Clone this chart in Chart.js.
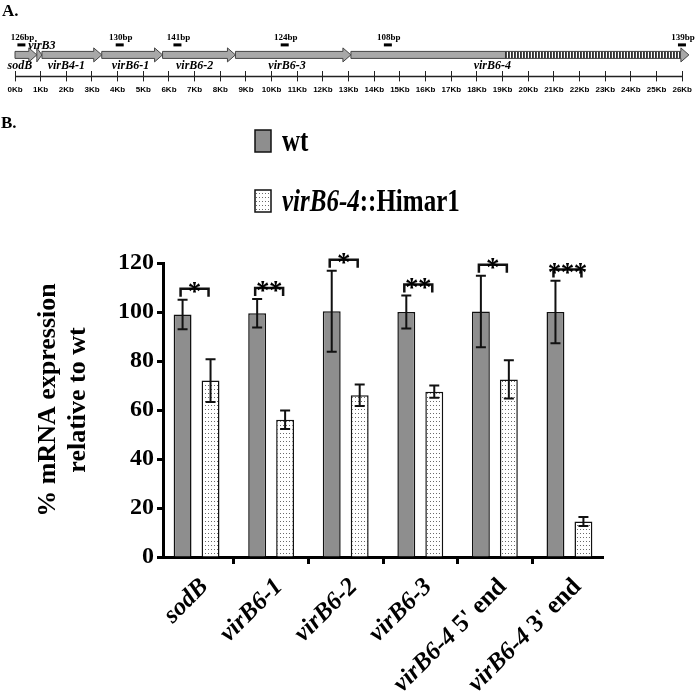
<!DOCTYPE html>
<html>
<head>
<meta charset="utf-8">
<script src="https://cdn.jsdelivr.net/npm/chart.js@4"></script>
<style>
  html, body { margin: 0; padding: 0; background: #fff; }
  #wrap { position: relative; width: 696px; height: 692px; }
  canvas { position: absolute; left: 0; top: 0; }
</style>
</head>
<body>
<div id="wrap">
  <canvas id="bars" width="696" height="692"></canvas>
  <canvas id="map" width="696" height="103"></canvas>
</div>
<script>
// ---- panel A: gene map, positions in Kb ----
const genes = ['sodB', 'virB3', 'virB4-1', 'virB6-1', 'virB6-2', 'virB6-3', 'virB6-4'];
const geneStart = [0, 0.85, 1.05, 3.38, 5.75, 8.59, 13.09];
const geneEnd = [0.85, 1.05, 3.38, 5.75, 8.59, 13.09, 26.26];
const geneLabelAt = [0.19, 1.05, 2.0, 4.5, 7.0, 10.6, 18.6];
const disruptedFrom = 19.1; // hatched part of virB6-4
const ampliconLabels = ['126bp', '130bp', '141bp', '124bp', '108bp', '139bp'];
const ampliconAt = [0.25, 4.08, 6.33, 10.51, 14.53, 25.99];
const kbMax = 26;

// ---- panel B: % mRNA expression relative to wt ----
const categories = ['sodB', 'virB6-1', 'virB6-2', 'virB6-3', "virB6-4 5' end", "virB6-4 3' end"];
const wt = [99, 99.5, 100.3, 100, 100.2, 100];
const wtErr = [6, 5.8, 16.5, 6.7, 14.6, 12.8];
const mutant = [72, 56, 66, 67.5, 72.5, 14.5];
const mutantErr = [8.7, 3.8, 4.4, 2.5, 7.8, 1.8];
const stars = ['*', '**', '*', '**', '*', '***'];
const yTitle = ['% mRNA expression', 'relative to wt'];

const serif = '"Liberation Serif", "Times New Roman", serif';

const mapPlugin = {
  id: 'geneMap',
  afterDraw(chart) {
    const ctx = chart.ctx;
    const x = chart.scales.x;
    const base = chart.chartArea.bottom;
    const mid = base - 16.5;
    ctx.save();

    ctx.fillStyle = '#000';
    ctx.font = 'bold 17px ' + serif;
    ctx.textAlign = 'left';
    ctx.textBaseline = 'alphabetic';
    ctx.fillText('A.', 2, 16);

    // axis line crossing the tick marks
    ctx.strokeStyle = '#222';
    ctx.lineWidth = 1.5;
    ctx.beginPath();
    ctx.moveTo(x.getPixelForValue(0), base + 5);
    ctx.lineTo(x.getPixelForValue(kbMax), base + 5);
    ctx.stroke();

    genes.forEach((g, i) => {
      const x0 = x.getPixelForValue(geneStart[i]);
      const x1 = x.getPixelForValue(geneEnd[i]);
      const head = Math.min(8, x1 - x0);
      const xb = x1 - head;
      ctx.beginPath();
      ctx.moveTo(x0, mid - 3.5);
      ctx.lineTo(xb, mid - 3.5);
      ctx.lineTo(xb, mid - 7);
      ctx.lineTo(x1, mid);
      ctx.lineTo(xb, mid + 7);
      ctx.lineTo(xb, mid + 3.5);
      ctx.lineTo(x0, mid + 3.5);
      ctx.closePath();
      ctx.fillStyle = '#a8a8a8';
      ctx.fill();
      if (g === 'virB6-4') {
        const hx = x.getPixelForValue(disruptedFrom);
        ctx.fillStyle = '#fff';
        ctx.fillRect(hx, mid - 3.5, xb - hx, 7);
        ctx.fillStyle = '#111';
        for (let s = hx; s < xb - 1; s += 3) ctx.fillRect(s, mid - 3.5, 1.6, 7);
      }
      ctx.strokeStyle = '#444';
      ctx.lineWidth = 1;
      ctx.stroke();

      ctx.fillStyle = '#000';
      ctx.font = 'italic bold 12px ' + serif;
      ctx.textAlign = 'center';
      const lx = x.getPixelForValue(geneLabelAt[i]);
      if (g === 'virB3') ctx.fillText(g, lx, mid - 6);
      else ctx.fillText(g, lx, mid + 14);
    });

    ampliconLabels.forEach((t, i) => {
      const cx = x.getPixelForValue(ampliconAt[i]);
      ctx.fillStyle = '#000';
      ctx.fillRect(cx - 4, mid - 11.5, 8, 3);
      ctx.font = 'bold 9px ' + serif;
      ctx.textAlign = 'center';
      ctx.fillText(t, cx + 1, mid - 15);
    });
    ctx.restore();
  }
};

new Chart(document.getElementById('map'), {
  type: 'scatter',
  data: { datasets: [] },
  options: {
    responsive: false,
    animation: false,
    layout: { padding: { left: 15, right: 12, top: 0, bottom: 4 } },
    plugins: { legend: { display: false }, tooltip: { enabled: false } },
    scales: {
      x: {
        type: 'linear', min: 0, max: kbMax,
        border: { display: false },
        grid: { drawOnChartArea: false, tickLength: 10, color: '#222', lineWidth: 1 },
        ticks: {
          stepSize: 1, autoSkip: false, maxRotation: 0, padding: 4, color: '#000',
          font: { family: '"Liberation Sans", Arial, sans-serif', size: 8, weight: 'bold' },
          callback: v => v + 'Kb'
        }
      },
      y: { display: false, min: 0, max: 1 }
    }
  },
  plugins: [mapPlugin]
});

// ---- panel B ----
const barCanvas = document.getElementById('bars');
function dotPattern(ctx) {
  const c = document.createElement('canvas');
  c.width = 3; c.height = 4;
  const g = c.getContext('2d');
  g.fillStyle = '#fff';
  g.fillRect(0, 0, 3, 4);
  g.fillStyle = '#6a6a6a';
  g.fillRect(1, 1, 1, 1);
  return ctx.createPattern(c, 'repeat');
}
const dots = dotPattern(barCanvas.getContext('2d'));

const barExtras = {
  id: 'barExtras',
  afterDraw(chart) {
    const ctx = chart.ctx;
    const x = chart.scales.x, y = chart.scales.y;
    const area = chart.chartArea;
    const errs = [wtErr, mutantErr];
    ctx.save();

    // error bars
    ctx.strokeStyle = '#111';
    ctx.lineWidth = 2;
    chart.data.datasets.forEach((ds, d) => {
      chart.getDatasetMeta(d).data.forEach((bar, i) => {
        const v = ds.data[i].y, e = errs[d][i];
        const t = y.getPixelForValue(v + e), b = y.getPixelForValue(v - e);
        ctx.beginPath();
        ctx.moveTo(bar.x, t); ctx.lineTo(bar.x, b);
        ctx.moveTo(bar.x - 5, t); ctx.lineTo(bar.x + 5, t);
        ctx.moveTo(bar.x - 5, b); ctx.lineTo(bar.x + 5, b);
        ctx.stroke();
      });
    });

    // significance brackets
    const wtBars = chart.getDatasetMeta(0).data, mBars = chart.getDatasetMeta(1).data;
    ctx.lineWidth = 2.5;
    ctx.fillStyle = '#000';
    ctx.font = 'bold 27px ' + serif;
    ctx.textAlign = 'center';
    ctx.textBaseline = 'alphabetic';
    stars.forEach((s, i) => {
      const l = wtBars[i].x - 2, r = mBars[i].x - 2;
      const h = y.getPixelForValue(wt[i] + wtErr[i] + 4.5);
      ctx.beginPath();
      ctx.moveTo(l, h + 8); ctx.lineTo(l, h); ctx.lineTo(r, h); ctx.lineTo(r, h + 8);
      ctx.stroke();
      const cx = (l + r) / 2;
      for (let k = 0; k < s.length; k++) {
        ctx.fillText('*', cx + (k - (s.length - 1) / 2) * 13, h + 11);
      }
    });

    // y axis title, two lines
    ctx.save();
    ctx.translate(0, 400);
    ctx.rotate(-Math.PI / 2);
    ctx.textAlign = 'center';
    ctx.font = 'bold 26px ' + serif;
    ctx.fillText(yTitle[0], 0, 55);
    ctx.fillText(yTitle[1], 0, 85);
    ctx.restore();

    // category labels, gene part italic
    categories.forEach((c, i) => {
      const px = x.getPixelForValue(i);
      const sp = c.indexOf(' ');
      const it = sp < 0 ? c : c.slice(0, sp);
      const rest = sp < 0 ? '' : c.slice(sp);
      const fi = 'italic bold 25px ' + serif, fr = 'bold 25px ' + serif;
      ctx.font = fi; const wi = ctx.measureText(it).width;
      ctx.font = fr; const wr = ctx.measureText(rest).width;
      ctx.save();
      ctx.translate(px + 8, area.bottom + 26);
      ctx.rotate(-Math.PI / 4);
      ctx.textAlign = 'left';
      ctx.textBaseline = 'middle';
      ctx.font = fi; ctx.fillText(it, -wi - wr, 0);
      ctx.font = fr; ctx.fillText(rest, -wr, 0);
      ctx.restore();
    });

    // panel letter and legend
    ctx.textAlign = 'left';
    ctx.textBaseline = 'alphabetic';
    ctx.font = 'bold 17px ' + serif;
    ctx.fillText('B.', 1, 128);

    const boxes = [[130, '#8e8e8e'], [190, dots]];
    ctx.lineWidth = 1.5;
    ctx.strokeStyle = '#111';
    boxes.forEach(([by, fill]) => {
      ctx.fillStyle = fill;
      ctx.fillRect(255, by, 16, 22);
      ctx.strokeRect(255, by, 16, 22);
    });
    ctx.fillStyle = '#000';
    ctx.save();
    ctx.translate(282, 151);
    ctx.scale(1, 1.25);
    ctx.font = 'bold 25px ' + serif;
    ctx.fillText(chart.data.datasets[0].label, 0, 0);
    ctx.restore();
    ctx.save();
    ctx.translate(282, 211);
    ctx.scale(1, 1.25);
    const lab = chart.data.datasets[1].label.split('::');
    ctx.font = 'italic bold 25px ' + serif;
    ctx.fillText(lab[0], 0, 0);
    const w0 = ctx.measureText(lab[0]).width;
    ctx.font = 'bold 25px ' + serif;
    ctx.fillText('::' + lab[1], w0, 0);
    ctx.restore();

    ctx.restore();
  }
};

new Chart(barCanvas, {
  type: 'bar',
  data: {
    datasets: [
      {
        label: 'wt',
        data: wt.map((v, i) => ({ x: i, y: v })),
        backgroundColor: '#8e8e8e', borderColor: '#111', borderWidth: 1.5,
        categoryPercentage: 0.75, barPercentage: 0.64
      },
      {
        label: 'virB6-4::Himar1',
        data: mutant.map((v, i) => ({ x: i, y: v })),
        backgroundColor: dots, borderColor: '#111', borderWidth: 1.5,
        categoryPercentage: 0.75, barPercentage: 0.64
      }
    ]
  },
  options: {
    responsive: false,
    animation: false,
    layout: { padding: { left: 0, right: 93, top: 263, bottom: 128 } },
    plugins: { legend: { display: false }, tooltip: { enabled: false } },
    scales: {
      x: {
        type: 'linear', min: -0.45, max: categories.length - 0.55, offset: false,
        afterBuildTicks: s => { s.ticks = categories.map((c, i) => ({ value: i })); },
        grid: { drawOnChartArea: false, tickLength: 7, tickWidth: 3, color: '#000' },
        border: { color: '#000', width: 3 },
        ticks: { display: false }
      },
      y: {
        min: 0, max: 120,
        afterFit: s => { s.width = 163; },
        ticks: { stepSize: 20, color: '#000', padding: 3, font: { family: serif, size: 24, weight: 'bold' } },
        grid: { drawOnChartArea: false, tickLength: 6, tickWidth: 3, color: '#000' },
        border: { color: '#000', width: 3 }
      }
    }
  },
  plugins: [barExtras]
});
</script>
</body>
</html>
